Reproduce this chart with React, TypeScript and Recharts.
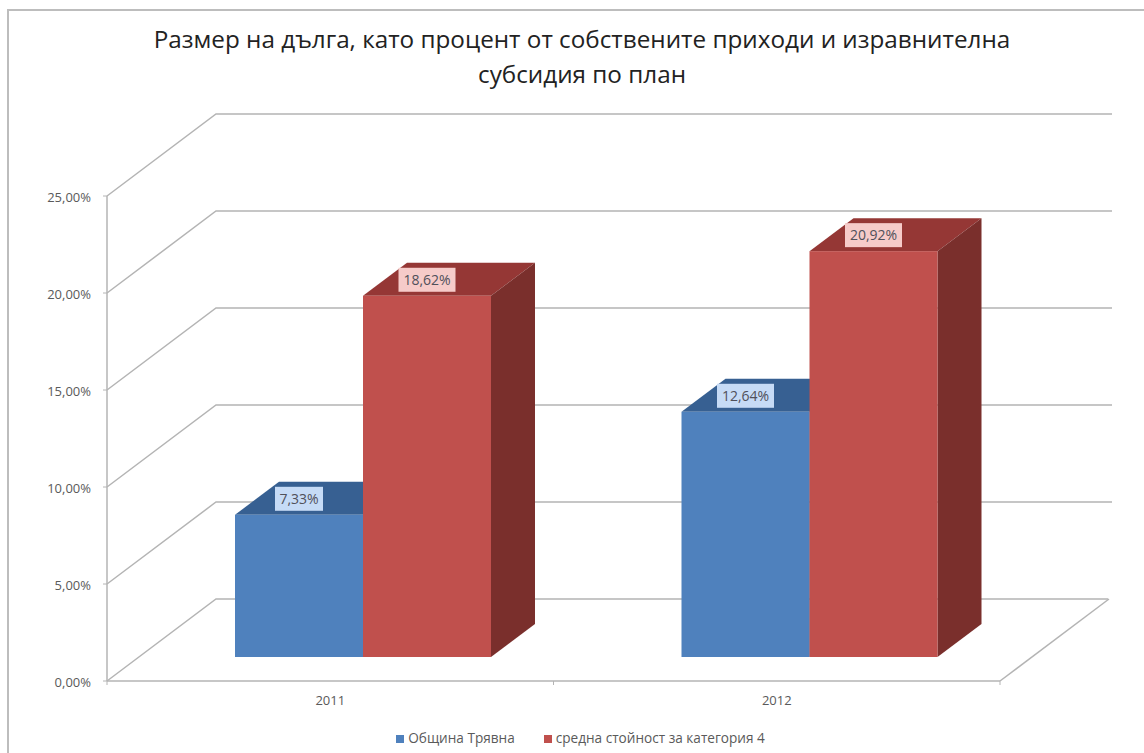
import { Bar, BarChart, CartesianGrid, LabelList, Legend, XAxis, YAxis } from 'recharts';

const categories = ['2011', '2012'];
const obshtina = [7.33, 12.64];
const sredna = [18.62, 20.92];
const yTicks = [0, 5, 10, 15, 20, 25];
const titleLines = [
  'Размер на дълга, като процент от собствените приходи и изравнителна',
  'субсидия по план',
];

const data = categories.map((year, i) => ({ year, obshtina: obshtina[i], sredna: sredna[i] }));

const FONT = '"Open Sans", sans-serif';
const LINE = '#b4b4b4';
const TEXT = '#5a5a5a';

// perspective of the fake 3d box
const WALL_DX = 109;
const WALL_DY = -82;
const WALL_END = 1112;
const BAR_DX = 33;
const BAR_DY = -24;
const DEPTH_DX = 44;
const DEPTH_DY = -33;
const PLOT_LEFT = 107;
const PLOT_RIGHT = 1000;
const PLOT_BOTTOM = 681;

const fmt = (v: number, digits = 2) => `${v.toFixed(digits).replace('.', ',')}%`;

function WallLine({ x1, y1 }: any) {
  const isFloor = Math.abs(y1 - PLOT_BOTTOM) < 1;
  return (
    <g fill="none" stroke={LINE} strokeWidth={1.5}>
      <path d={`M${x1},${y1}L${x1 + WALL_DX},${y1 + WALL_DY}L${WALL_END - (isFloor ? 4 : 0)},${y1 + WALL_DY}`} />
      {isFloor && <path d={`M${PLOT_RIGHT},${y1}L${PLOT_RIGHT + WALL_DX},${y1 + WALL_DY}`} />}
    </g>
  );
}

function Box3D({ x, y, width, height, fill, top, side }: any) {
  const l = x + BAR_DX;
  const r = l + width;
  const t = y + BAR_DY;
  const b = t + height;
  return (
    <g>
      <path d={`M${l},${t}L${l + DEPTH_DX},${t + DEPTH_DY}L${r + DEPTH_DX},${t + DEPTH_DY}L${r},${t}Z`} fill={top} />
      <path d={`M${r},${t}L${r + DEPTH_DX},${t + DEPTH_DY}L${r + DEPTH_DX},${b + DEPTH_DY}L${r},${b}Z`} fill={side} />
      <rect x={l} y={t} width={width} height={height} fill={fill} />
    </g>
  );
}

function ValueTag({ x, y, width, value, bg }: any) {
  const cx = x + BAR_DX + width / 2;
  const cy = y + BAR_DY - 16;
  const w = value < 10 ? 48 : 57;
  return (
    <g>
      <rect x={cx - w / 2} y={cy - 12} width={w} height={24} fill={bg} />
      <text x={cx} y={cy + 5} textAnchor="middle" fontFamily={FONT} fontSize={14} fill="#50505a">
        {fmt(value)}
      </text>
    </g>
  );
}

function YearTick({ x, y, payload }: any) {
  const half = (PLOT_RIGHT - PLOT_LEFT) / categories.length / 2;
  return (
    <g>
      <path d={`M${x - half},${y - 8}v4M${x + half},${y - 8}v4`} stroke={LINE} />
      <text x={x} y={y + 16} textAnchor="middle" fontFamily={FONT} fontSize={13} fill={TEXT}>
        {payload.value}
      </text>
    </g>
  );
}

export default function App() {
  return (
    <div style={{ position: 'absolute', left: 0, top: 0, width: 1144, height: 753, background: '#fff', overflow: 'hidden' }}>
      <div style={{ position: 'absolute', left: 7, top: 9, width: 1137, height: 744, borderLeft: '2px solid #bdbdbd', borderTop: '2px solid #bdbdbd', boxSizing: 'border-box' }} />
      <div style={{ position: 'absolute', left: 0, top: 21, width: 1164, textAlign: 'center', fontFamily: FONT, fontSize: 24.25, lineHeight: '35px', color: '#222' }}>
        {titleLines.map((line) => (
          <div key={line}>{line}</div>
        ))}
      </div>
      <BarChart
        width={1144}
        height={753}
        data={data}
        barSize={128}
        barGap={0}
        barCategoryGap={0}
        margin={{ top: 196, right: 144, bottom: 42, left: 0 }}
      >
        <CartesianGrid vertical={false} horizontal={WallLine} />
        <XAxis
          dataKey="year"
          height={30}
          axisLine={{ stroke: LINE, strokeWidth: 1.5 }}
          tickLine={false}
          tick={YearTick}
        />
        <YAxis
          width={107}
          domain={[0, 25]}
          ticks={yTicks}
          interval={0}
          tickFormatter={(v: number) => fmt(v)}
          axisLine={{ stroke: LINE, strokeWidth: 1.5 }}
          tickLine={{ stroke: LINE }}
          tickSize={4}
          tickMargin={12}
          tick={{ fontFamily: FONT, fontSize: 13, fill: TEXT, dy: 1 }}
        />
        <Legend
          verticalAlign="middle"
          iconType="square"
          iconSize={8}
          formatter={(value: string) => (
            <span style={{ color: TEXT, fontFamily: FONT, fontSize: 13.6, paddingRight: 19 }}>{value}</span>
          )}
          wrapperStyle={{ left: 365, top: 728, width: 460, bottom: 'auto', textAlign: 'left' }}
        />
        <Bar
          dataKey="obshtina"
          name="Община Трявна"
          fill="#4f81bd"
          isAnimationActive={false}
          shape={(p: any) => <Box3D {...p} fill="#4f81bd" top="#376092" side="#2f5583" />}
        >
          <LabelList dataKey="obshtina" content={(p: any) => <ValueTag {...p} bg="#c6dbf6" />} />
        </Bar>
        <Bar
          dataKey="sredna"
          name="средна стойност за категория 4"
          fill="#c0504d"
          isAnimationActive={false}
          shape={(p: any) => <Box3D {...p} fill="#c0504d" top="#953735" side="#7a2f2c" />}
        >
          <LabelList dataKey="sredna" content={(p: any) => <ValueTag {...p} bg="#f6cbc9" />} />
        </Bar>
      </BarChart>
    </div>
  );
}
